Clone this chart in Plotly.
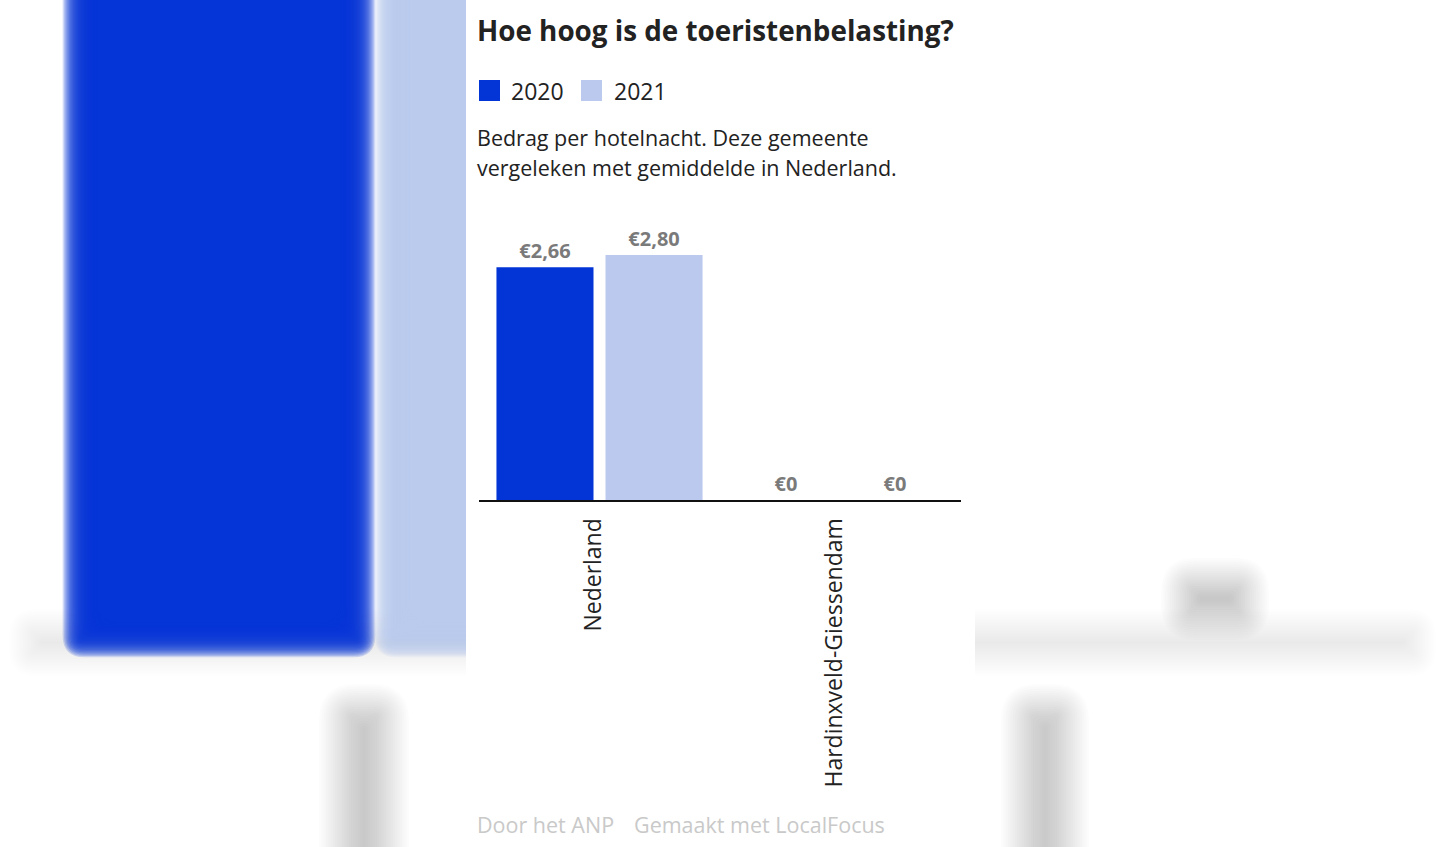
import plotly.graph_objects as go

# ---------------- data ----------------
categories = ["Nederland", "Hardinxveld-Giessendam"]
series_names = ["2020", "2021"]
values_2020 = [2.66, 0.0]
values_2021 = [2.80, 0.0]

title_text = "Hoe hoog is de toeristenbelasting?"
subtitle_lines = ["Bedrag per hotelnacht. Deze gemeente",
                  "vergeleken met gemiddelde in Nederland."]
footer_left = "Door het ANP"
footer_right = "Gemaakt met LocalFocus"

# ---------------- style ----------------
BLUE = "#0335d6"
LIGHT = "#bcc9ee"
FONT = "Open Sans"
W, H = 1440, 847
L, R_EDGE, T, B_EDGE = 479, 961, 220, 500   # plot area in pixels
PW, PH = R_EDGE - L, B_EDGE - T


def px(x):
    return (x - L) / PW


def py(y):
    return (B_EDGE - y) / PH


def fmt(v):
    if v == 0:
        return "€0"
    return "€" + f"{v:.2f}".replace(".", ",")


shapes = []


def rrect_path(X0, X1, Y0, Y1, rr):
    def p(x, y):
        return f"{px(x):.5f},{py(y):.5f}"
    return (f"M{p(X0 + rr, Y0)} L{p(X1 - rr, Y0)} Q{p(X1, Y0)} {p(X1, Y0 + rr)} "
            f"L{p(X1, Y1 - rr)} Q{p(X1, Y1)} {p(X1 - rr, Y1)} "
            f"L{p(X0 + rr, Y1)} Q{p(X0, Y1)} {p(X0, Y1 - rr)} "
            f"L{p(X0, Y0 + rr)} Q{p(X0, Y0)} {p(X0 + rr, Y0)} Z")


def blur(x0, x1, y0, y1, rgb, peak, r, n=28):
    a = 1 - (1 - peak) ** (1.0 / n)
    for i in range(n):
        d = r * (1 - 2 * (i + 0.5) / n)
        X0, X1, Y0, Y1 = x0 - d, x1 + d, y0 - d, y1 + d
        if X1 - X0 <= 0.5 or Y1 - Y0 <= 0.5:
            continue
        rr = min(abs(d) * 1.1 + 3, (X1 - X0) / 2, (Y1 - Y0) / 2)
        shapes.append(dict(
            type="path", xref="paper", yref="paper", layer="below",
            path=rrect_path(X0, X1, Y0, Y1, rr),
            line=dict(width=0),
            fillcolor=f"rgba({rgb[0]},{rgb[1]},{rgb[2]},{a:.4f})"))


# blurred backdrop (decorative, enlarged copy of the chart)
blur(30, 1415, 630, 655, (0, 0, 0), 0.14, 22)             # axis line
blur(80, 358, -200, 640, (3, 53, 214), 0.995, 18)         # 2020 bar
blur(392, 700, -200, 640, (188, 201, 238), 0.995, 18)     # 2021 bar
blur(350, 378, 715, 1000, (110, 110, 110), 0.48, 32)      # label blob
blur(1032, 1058, 715, 1000, (110, 110, 110), 0.48, 32)    # label blob
blur(1190, 1240, 587, 611, (110, 110, 110), 0.42, 30)     # €0 blob

# white panel
shapes.append(dict(type="rect", xref="paper", yref="paper", layer="below",
                   x0=px(466), x1=px(975), y0=py(860), y1=py(-10),
                   line=dict(width=0), fillcolor="white"))

# legend squares
for i, col in enumerate([BLUE, LIGHT]):
    x0 = 479 + i * 102
    shapes.append(dict(type="rect", xref="paper", yref="paper", layer="above",
                       x0=px(x0), x1=px(x0 + 21), y0=py(101), y1=py(80),
                       line=dict(width=0), fillcolor=col))

fig = go.Figure()
for name, vals, col in [(series_names[0], values_2020, BLUE),
                        (series_names[1], values_2021, LIGHT)]:
    fig.add_trace(go.Bar(
        x=categories, y=vals, name=name, marker=dict(color=col, line=dict(width=0)),
        text=[fmt(v) for v in vals], textposition="outside", cliponaxis=False,
        textfont=dict(family=FONT, size=20, color="#7a7a7a", weight=700),
        hoverinfo="skip", showlegend=False))

annotations = []


def note(text, x, y, size, color, bold=False):
    annotations.append(dict(
        text=text, xref="paper", yref="paper", x=px(x), y=py(y),
        xanchor="left", yanchor="middle", showarrow=False,
        font=dict(family=FONT, size=size, color=color, weight=700 if bold else 400)))


note(title_text, 475, 30, 27.8, "#222222", bold=True)
note(series_names[0], 509, 91, 23, "#222222")
note(series_names[1], 612, 91, 23, "#222222")
note(subtitle_lines[0], 475, 137, 21.5, "#222222")
note(subtitle_lines[1], 475, 167, 21.5, "#222222")
note(footer_left, 475, 824, 21.5, "#c9c9c9")
note(footer_right, 632, 824, 21.5, "#c9c9c9")

fig.update_layout(
    width=W, height=H, autosize=False,
    margin=dict(l=L, r=W - R_EDGE, t=T, b=H - B_EDGE, pad=0),
    paper_bgcolor="white", plot_bgcolor="rgba(0,0,0,0)",
    barmode="group", bargap=0.095, bargroupgap=0.11,
    shapes=shapes, annotations=annotations,
    font=dict(family=FONT),
    xaxis=dict(range=[-0.5, 1.5], showline=True, linecolor="#111111", linewidth=2,
               showgrid=False, zeroline=False, ticks="", tickangle=-90,
               tickfont=dict(family=FONT, size=23, color="#222222"),
               ticklabelstandoff=7, ticklabelshift=-6, fixedrange=True),
    yaxis=dict(range=[0, PH / 87.5], visible=False, showgrid=False, zeroline=False,
               fixedrange=True),
)

fig.write_html("out.html")
